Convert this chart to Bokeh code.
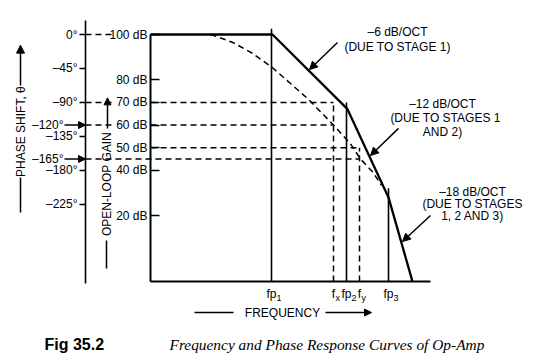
import numpy as np
from bokeh.plotting import figure
from bokeh.models import Range1d, LinearAxis, FixedTicker, Arrow, NormalHead
from bokeh.core.properties import value
from bokeh.embed import file_html
from bokeh.resources import INLINE

# ---------------- data ----------------
# frequency markers (linear, arbitrary frequency units)
freq_names = ["fp", "f", "fp", "f", "fp"]
freq_subs = ["1", "x", "2", "y", "3"]
freq_pos = [1.21, 1.83, 1.96, 2.09, 2.38]
FP1, FX, FP2, FY, FP3 = freq_pos
F_END = 2.80

# open-loop gain asymptotic curve (dB)
gain_f = [0.0, 1.22, 1.97, 2.38, 2.62]
gain_db = [100, 100, 67, 28, -9.2]

# phase shift curve (degrees)
phase_f = [0.60, 0.65, 0.83, 1.02, 1.22, 1.40, 1.58, 1.83, 2.00, 2.10, 2.22, 2.31]
phase_deg = [0, -2, -11, -25, -44, -65, -86, -120, -145, -165, -182, -200]

# axis ticks
gain_ticks = [20, 40, 50, 60, 70, 80, 100]
phase_ticks = [0, -45, -90, -135, -180, -225]
phase_arrow_ticks = [-120, -165]

# vertical pole lines: frequency, top gain (dB)
pole_f = [FP1, FP2, FP3]
pole_top = [102.5, 70, 32]

# slope annotations
slope_lines = [["–6 dB/OCT", "(DUE TO STAGE 1)"],
               ["–12 dB/OCT", "(DUE TO STAGES 1", "AND 2)"],
               ["–18 dB/OCT", "(DUE TO STAGES", "1, 2 AND 3)"]]
slope_x = [[2.47, 2.47], [2.92, 2.95, 2.92], [3.22, 3.22, 3.22]]
slope_y = [[100.9, 94.4], [69.1, 63.3, 56.8], [30.6, 25.3, 19.6]]

DB_MIN = -9.2
PHASE_AXIS_X = -0.65
DEG_PER_DB = 3.0   # phase axis scale: 0 deg at 100 dB, 3 deg per dB

def db_to_deg(d):
    return DEG_PER_DB * (d - 100)

# ---------------- figure ----------------
W, H = 530, 360
X0, X1 = -1.50, -1.50 + W / 100
Y1 = 115.03
Y0 = Y1 - H / 2.2625
p = figure(width=W, height=H, x_range=Range1d(X0, X1), y_range=Range1d(Y0, Y1),
           x_axis_type=None, y_axis_type=None, toolbar_location=None,
           output_backend="svg", min_border=0, outline_line_color=None)
p.extra_y_ranges = {"phase": Range1d(db_to_deg(Y0), db_to_deg(Y1))}
p.xgrid.visible = False
p.ygrid.visible = False

SANS = "Liberation Sans"
FS = "12px"

gax = LinearAxis(ticker=FixedTicker(ticks=gain_ticks), fixed_location=0, bounds=(DB_MIN, 100),
                 major_label_overrides={t: f"{t} dB" for t in gain_ticks},
                 major_tick_in=9, major_tick_out=0, minor_tick_in=0, minor_tick_out=0,
                 axis_line_width=2, major_tick_line_width=1.5, major_label_standoff=3,
                 major_label_text_font=SANS, major_label_text_font_size=FS,
                 major_label_text_color="black")
p.add_layout(gax, "left")

pax = LinearAxis(y_range_name="phase", ticker=FixedTicker(ticks=phase_ticks),
                 fixed_location=PHASE_AXIS_X, bounds=(-330, 18),
                 major_label_overrides={t: ("0°" if t == 0 else f"–{abs(t)}°") for t in phase_ticks},
                 major_tick_in=0, major_tick_out=6, minor_tick_in=0, minor_tick_out=0,
                 axis_line_width=1.6, major_tick_line_width=1.5, major_label_standoff=2,
                 major_label_text_font=SANS, major_label_text_font_size=FS,
                 major_label_text_color="black")
p.add_layout(pax, "left")

xax = LinearAxis(ticker=FixedTicker(ticks=[]), fixed_location=DB_MIN, bounds=(0, F_END),
                 major_tick_in=0, major_tick_out=0, minor_tick_in=0, minor_tick_out=0,
                 axis_line_width=2)
p.add_layout(xax, "below")

DASH = "6 4"
# horizontal dashed reference lines (left part, between phase axis and gain labels)
left_levels = [100, 70, 60]
left_ends = [-0.39, -0.35, -0.35]
p.segment(x0=[PHASE_AXIS_X] * 3, y0=left_levels, x1=left_ends, y1=left_levels,
          line_color="black", line_width=1.5, line_dash=DASH)
# -165 deg line from phase axis to fy
p.segment(x0=[PHASE_AXIS_X], y0=[-165], x1=[FY], y1=[-165], y_range_name="phase",
          line_color="black", line_width=1.5, line_dash=DASH)
# right part from gain axis to fx / fy
right_levels = [70, 60, 50]
right_ends = [FX, FX, FY]
p.segment(x0=[0] * 3, y0=right_levels, x1=right_ends, y1=right_levels,
          line_color="black", line_width=1.5, line_dash=DASH)
# vertical dashed lines at fx, fy
p.segment(x0=[FX, FY], y0=[DB_MIN, DB_MIN], x1=[FX, FY], y1=[70, 50],
          line_color="black", line_width=1.5, line_dash=DASH)

# pole verticals
p.segment(x0=pole_f, y0=[DB_MIN] * 3, x1=pole_f, y1=pole_top, line_color="black", line_width=1.6)

# curves
p.line(phase_f, phase_deg, y_range_name="phase", line_color="black", line_width=1.5, line_dash=DASH)
p.line(gain_f, gain_db, line_color="black", line_width=2.3)

# frequency labels
p.text(x=freq_pos, y=[-14.5] * 5, text=freq_names, text_font=value(SANS), text_font_size=FS,
       text_align="center", text_baseline="middle", text_color="black")
sub_dx = [0.05 if n == "fp" else 0.02 for n in freq_names]
p.text(x=[f + d for f, d in zip(freq_pos, sub_dx)], y=[-16.3] * 5, text=freq_subs,
       text_font=value(SANS), text_font_size="9px", text_align="left",
       text_baseline="middle", text_color="black")

# slope annotations
for xs, lines, ys in zip(slope_x, slope_lines, slope_y):
    p.text(x=xs, y=ys, text=lines, text_font=value(SANS), text_font_size=FS,
           text_align="center", text_baseline="middle", text_color="black")

arrows = [(1.87, 96.5, 1.59, 84.5), (2.48, 58.5, 2.20, 46.5), (2.80, 20.0, 2.52, 8.5)]
for xs, ys, xe, ye in arrows:
    p.add_layout(Arrow(x_start=xs, y_start=ys, x_end=xe, y_end=ye, line_width=1.5,
                       end=NormalHead(size=8, fill_color="black", line_color="black")))

# extra phase labels with arrows (-120, -165)
p.text(x=[-0.87] * 2, y=phase_arrow_ticks, y_range_name="phase",
       text=[f"–{abs(t)}°" for t in phase_arrow_ticks], text_font=value(SANS),
       text_font_size=FS, text_align="right", text_baseline="middle", text_color="black")
for t in phase_arrow_ticks:
    p.add_layout(Arrow(x_start=-0.86, y_start=t, x_end=PHASE_AXIS_X, y_end=t,
                       y_range_name="phase", line_width=1.5,
                       end=NormalHead(size=7, fill_color="black", line_color="black")))

# axis titles (vertical)
p.text(x=[-1.30], y=[57.1], text=["PHASE SHIFT, θ"], angle=np.pi / 2, text_font=value(SANS),
       text_font_size=FS, text_align="center", text_baseline="middle", text_color="black")
p.segment(x0=[-1.30], y0=[21.3], x1=[-1.30], y1=[36.8], line_color="black", line_width=1.5)
p.add_layout(Arrow(x_start=-1.30, y_start=77.5, x_end=-1.30, y_end=95.3, line_width=1.5,
                   end=NormalHead(size=8, fill_color="black", line_color="black")))

p.text(x=[-0.44], y=[33.9], text=["OPEN-LOOP GAIN"], angle=np.pi / 2, text_font=value(SANS),
       text_font_size=FS, text_align="center", text_baseline="middle", text_color="black")
p.segment(x0=[-0.44], y0=[-3.4], x1=[-0.44], y1=[8.9], line_color="black", line_width=1.5)
p.add_layout(Arrow(x_start=-0.43, y_start=58.5, x_end=-0.43, y_end=72.0, line_width=1.5,
                   end=NormalHead(size=7, fill_color="black", line_color="black")))

# frequency axis title
p.text(x=[1.32], y=[-22.9], text=["FREQUENCY"], text_font=value(SANS), text_font_size=FS,
       text_align="center", text_baseline="middle", text_color="black")
p.segment(x0=[0.44], y0=[-22.9], x1=[0.83], y1=[-22.9], line_color="black", line_width=1.5)
p.add_layout(Arrow(x_start=1.75, y_start=-22.9, x_end=2.21, y_end=-22.9, line_width=1.5,
                   end=NormalHead(size=7, fill_color="black", line_color="black")))

# caption
p.text(x=[-1.06], y=[-37.0], text=["Fig 35.2"], text_font=value(SANS), text_font_size="16px",
       text_font_style="bold", text_align="left", text_baseline="middle", text_color="black")
p.text(x=[0.19], y=[-37.0], text=["Frequency and Phase Response Curves of Op-Amp"],
       text_font=value("Liberation Serif"), text_font_size="15.4px", text_font_style="italic",
       text_align="left", text_baseline="middle", text_color="black")

open("out.html", "w").write(file_html(p, INLINE))
